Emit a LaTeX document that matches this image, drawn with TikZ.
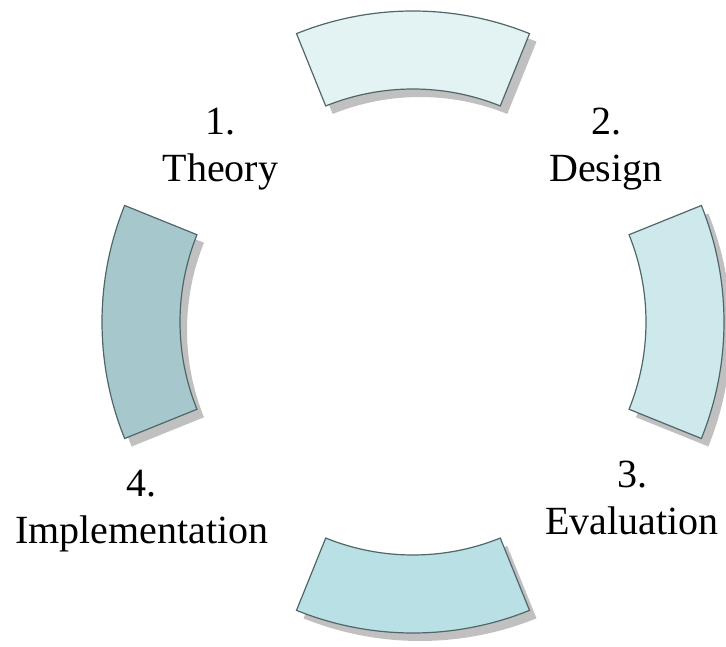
\documentclass[tikz,border=0pt]{standalone}
\usepackage{fontspec}
\setmainfont{Liberation Serif}
\newfontfamily\lblfont{Liberation Serif}
\definecolor{cTop}{RGB}{227,243,243}
\definecolor{cRight}{RGB}{205,233,236}
\definecolor{cBottom}{RGB}{185,224,228}
\definecolor{cLeft}{RGB}{166,200,204}
\definecolor{cEdge}{RGB}{80,102,104}
\definecolor{cShadow}{RGB}{192,192,192}
\newcommand{\ringseg}[3]{%
  \fill[segshadow] ([shift={(#1:311)}]420,316) arc[start angle=#1, end angle=#2, radius=311]
    -- ([shift={(#2:233)}]420,316) arc[start angle=#2, end angle=#1, radius=233] -- cycle;
  \draw[segbox, fill=#3] ([shift={(#1:311)}]413,324) arc[start angle=#1, end angle=#2, radius=311]
    -- ([shift={(#2:233)}]413,324) arc[start angle=#2, end angle=#1, radius=233] -- cycle;}
\begin{document}
\begin{tikzpicture}[x=1pt,y=1pt,
  segbox/.style={draw=cEdge, line width=1.2pt, line join=miter},
  segshadow/.style={fill=cShadow},
  lbl/.style={align=center, font=\lblfont\fontsize{40}{46.7}\selectfont, inner sep=0pt, anchor=base}]
\useasboundingbox (0,0) rectangle (726,646);
\ringseg{68}{112}{cTop}
\ringseg{-22}{22}{cRight}
\ringseg{248}{292}{cBottom}
\ringseg{158}{202}{cLeft}
\node[lbl] (theory) at (220.5,464.3) {1.\\Theory};
\node[lbl] (design) at (606,464.3) {2.\\Design};
\node[lbl] (evaluation) at (632,112) {3.\\Evaluation};
\node[lbl] (implementation) at (141.7,102.7) {4.\\Implementation};
\end{tikzpicture}
\end{document}
